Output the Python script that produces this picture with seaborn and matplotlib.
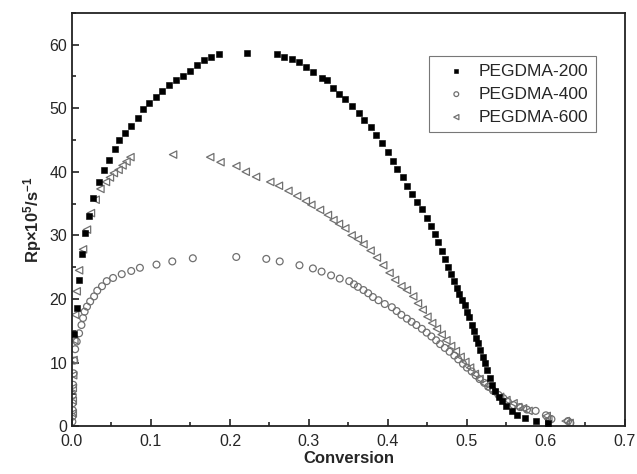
import numpy as np
import pandas as pd
import matplotlib
matplotlib.use("Agg")
import matplotlib.pyplot as plt
from matplotlib.ticker import MultipleLocator
import seaborn as sns

# PEGDMA-200 (filled squares)
x200 = [0.002, 0.006, 0.009, 0.013, 0.017, 0.022, 0.027, 0.034, 0.040, 0.047,
        0.054, 0.060, 0.067, 0.075, 0.083, 0.090, 0.098, 0.106, 0.114, 0.123,
        0.132, 0.141, 0.149, 0.158, 0.167, 0.176, 0.186, 0.222, 0.259, 0.268,
        0.278, 0.287, 0.296, 0.305, 0.316, 0.323, 0.331, 0.338, 0.346, 0.354,
        0.363, 0.370, 0.378, 0.385, 0.392, 0.400, 0.406, 0.412, 0.419, 0.424,
        0.431, 0.437, 0.443, 0.449, 0.455, 0.460, 0.464, 0.468, 0.472, 0.476,
        0.480, 0.484, 0.487, 0.490, 0.494, 0.497, 0.500, 0.503, 0.506, 0.509,
        0.512, 0.514, 0.517, 0.520, 0.523, 0.526, 0.529, 0.532, 0.536, 0.540,
        0.545, 0.550, 0.557, 0.564, 0.573, 0.587, 0.603]
y200 = [14.5, 18.5, 23.0, 27.0, 30.3, 33.1, 35.9, 38.4, 40.3, 41.9,
        43.6, 45.0, 46.1, 47.2, 48.5, 49.8, 50.8, 51.7, 52.7, 53.7,
        54.5, 55.1, 55.9, 56.8, 57.5, 58.0, 58.5, 58.7, 58.5, 58.1,
        57.7, 57.2, 56.4, 55.7, 54.8, 54.4, 53.2, 52.2, 51.4, 50.3,
        49.3, 48.1, 47.0, 45.8, 44.5, 43.1, 41.7, 40.4, 39.1, 37.7,
        36.5, 35.3, 34.1, 32.8, 31.5, 30.2, 29.0, 27.6, 26.3, 25.0,
        23.9, 22.8, 21.7, 20.8, 19.8, 19.0, 18.0, 17.1, 15.9, 14.9,
        13.9, 13.0, 12.0, 10.9, 9.9, 8.8, 7.6, 6.5, 5.5, 4.6,
        3.9, 3.2, 2.4, 1.8, 1.3, 0.8, 0.5]

# PEGDMA-400 (open circles)
x400 = [0.0005, 0.0005, 0.001, 0.001, 0.001, 0.0015, 0.002, 0.003, 0.004, 0.006,
        0.009, 0.012, 0.014, 0.016, 0.019, 0.023, 0.028, 0.032, 0.038, 0.044,
        0.052, 0.063, 0.075, 0.086, 0.107, 0.127, 0.153, 0.208, 0.246, 0.263,
        0.288, 0.305, 0.316, 0.328, 0.339, 0.351, 0.357, 0.362, 0.369, 0.375,
        0.381, 0.388, 0.396, 0.405, 0.411, 0.417, 0.424, 0.430, 0.436, 0.443,
        0.449, 0.455, 0.461, 0.466, 0.472, 0.478, 0.484, 0.489, 0.495, 0.500,
        0.506, 0.511, 0.516, 0.522, 0.527, 0.533, 0.540, 0.546, 0.552, 0.559,
        0.567, 0.576, 0.587, 0.600, 0.607, 0.628, 0.631]
y400 = [0.7, 1.5, 2.5, 3.6, 4.9, 6.5, 8.3, 10.3, 12.1, 13.3,
        14.6, 15.9, 17.0, 18.0, 18.8, 19.6, 20.4, 21.3, 22.0, 22.8,
        23.3, 23.9, 24.4, 24.9, 25.4, 25.9, 26.4, 26.6, 26.3, 25.9,
        25.3, 24.8, 24.3, 23.7, 23.2, 22.8, 22.3, 21.9, 21.4, 20.9,
        20.3, 19.8, 19.2, 18.7, 18.1, 17.5, 16.9, 16.4, 15.9, 15.3,
        14.7, 14.1, 13.5, 12.9, 12.3, 11.7, 11.1, 10.5, 9.8, 9.2,
        8.6, 8.0, 7.4, 6.8, 6.2, 5.6, 4.9, 4.4, 3.8, 3.3,
        3.0, 2.6, 2.4, 1.7, 1.1, 0.8, 0.5]

# PEGDMA-600 (open left triangles)
x600 = [0.001, 0.001, 0.001, 0.0015, 0.002, 0.003, 0.004, 0.006, 0.009, 0.014,
        0.019, 0.024, 0.030, 0.036, 0.043, 0.048, 0.053, 0.059, 0.064, 0.069,
        0.074, 0.128, 0.175, 0.188, 0.208, 0.220, 0.233, 0.251, 0.262, 0.274,
        0.285, 0.296, 0.303, 0.314, 0.324, 0.331, 0.338, 0.346, 0.354, 0.362,
        0.369, 0.378, 0.386, 0.394, 0.402, 0.409, 0.417, 0.424, 0.432, 0.438,
        0.444, 0.450, 0.456, 0.462, 0.468, 0.474, 0.480, 0.486, 0.492, 0.498,
        0.504, 0.510, 0.516, 0.522, 0.528, 0.535, 0.542, 0.550, 0.559, 0.565,
        0.571, 0.578, 0.601, 0.603, 0.625, 0.630]
y600 = [2.0, 4.0, 6.0, 8.0, 10.4, 13.5, 17.5, 21.2, 24.5, 27.8,
        30.9, 33.5, 35.6, 37.3, 38.4, 39.1, 39.8, 40.3, 41.0, 41.6,
        42.3, 42.7, 42.3, 41.5, 40.9, 40.0, 39.2, 38.4, 37.8, 37.0,
        36.2, 35.4, 34.8, 34.0, 33.2, 32.4, 31.8, 31.1, 30.0, 29.4,
        28.6, 27.6, 26.5, 25.3, 24.1, 23.0, 22.0, 21.4, 20.4, 19.3,
        18.3, 17.2, 16.2, 15.3, 14.4, 13.5, 12.6, 11.8, 10.9, 10.1,
        9.2, 8.2, 7.4, 6.7, 5.9, 5.2, 4.6, 4.1, 3.6, 3.0,
        2.8, 2.4, 1.6, 1.1, 0.8, 0.5]

sns.set_style("ticks")
plt.rcParams['font.family'] = ['Liberation Sans', 'DejaVu Sans']
plt.rcParams['mathtext.fontset'] = 'custom'
plt.rcParams['mathtext.rm'] = 'Liberation Sans'
plt.rcParams['mathtext.bf'] = 'Liberation Sans:bold'
plt.rcParams['mathtext.default'] = 'bf'

fig = plt.figure(figsize=(6.37, 4.74), dpi=100)
ax = fig.add_axes([0.113, 0.101, 0.868, 0.872])

df200 = pd.DataFrame({"x": x200, "y": y200})
df400 = pd.DataFrame({"x": x400, "y": y400})
df600 = pd.DataFrame({"x": x600, "y": y600})

sns.scatterplot(data=df200, x="x", y="y", marker="s", s=17, color="black",
                edgecolor="black", linewidth=0.4, label="PEGDMA-200", ax=ax, zorder=3)
sns.scatterplot(data=df400, x="x", y="y", marker="o", s=24, facecolor="none",
                edgecolor="#707070", linewidth=0.9, label="PEGDMA-400", ax=ax, zorder=2)
sns.scatterplot(data=df600, x="x", y="y", marker="<", s=28, facecolor="none",
                edgecolor="#707070", linewidth=0.9, label="PEGDMA-600", ax=ax, zorder=2)

ax.set_xlim(0, 0.7)
ax.set_ylim(0, 65)
ax.xaxis.set_major_locator(MultipleLocator(0.1))
ax.xaxis.set_minor_locator(MultipleLocator(0.05))
ax.yaxis.set_major_locator(MultipleLocator(10))
ax.yaxis.set_minor_locator(MultipleLocator(5))
ax.set_xticks(np.arange(0, 0.71, 0.1))
ax.set_xticklabels(["0.0", "0.1", "0.2", "0.3", "0.4", "0.5", "0.6", "0.7"])
ax.tick_params(which="both", direction="in", top=False, right=False,
               labelsize=11.5, color="#222222", width=1.2)
ax.tick_params(which="major", length=5)
ax.tick_params(which="minor", length=3)
ax.tick_params(axis="x", which="major", pad=6)
for sp in ax.spines.values():
    sp.set_linewidth(1.3)
    sp.set_color("#222222")

ax.set_xlabel("Conversion", fontsize=12, fontweight="bold", labelpad=1)
ax.set_ylabel("Rp×10$^{5}$/s$^{-1}$", fontsize=12, fontweight="bold", labelpad=4)

leg = ax.legend(loc="upper right", bbox_to_anchor=(0.964, 0.917), fontsize=12.5,
                frameon=True, fancybox=False, edgecolor="#555555",
                handletextpad=0.15, borderpad=0.45, labelspacing=0.45,
                markerscale=0.7, handlelength=2.3)
leg.get_frame().set_linewidth(0.8)

fig.savefig("out.png", dpi=100)
